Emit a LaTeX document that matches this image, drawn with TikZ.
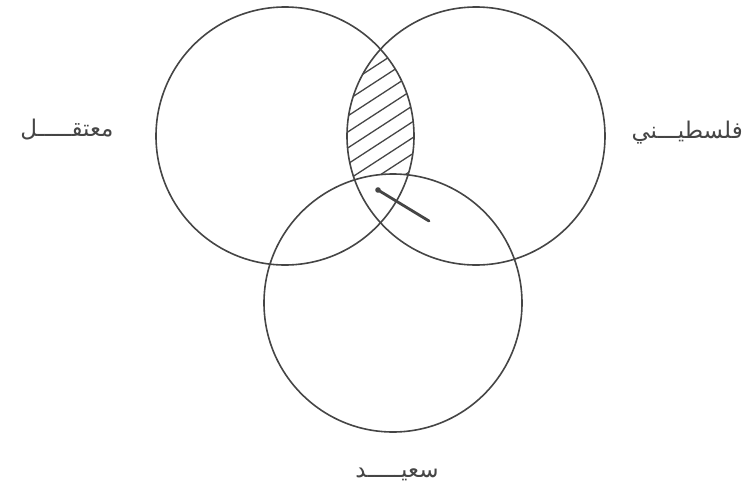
\documentclass[tikz,border=0pt]{standalone}
\usepackage{fontspec}
\newfontfamily\arabicfont[Script=Arabic]{DejaVu Sans}
\TeXXeTstate=1
\usetikzlibrary{positioning}
\definecolor{trazo}{HTML}{454545}

\begin{document}
\begin{tikzpicture}[
  x=1pt, y=-1pt,
  setcirc/.style={
    circle, draw=trazo, line width=1.6pt,
    minimum size=258pt, inner sep=0pt
  },
  lbl/.style={font=\arabicfont\fontsize{23}{27}\selectfont, text=trazo},
  hatch/.style={draw=trazo, line width=1.3pt},
  stick/.style={draw=trazo, line width=2.8pt, line cap=round}
]
  \useasboundingbox (0,0) rectangle (747,493);

  % the three sets
  \coordinate (cL) at (285,136);
  \coordinate (cR) at (476,136);
  \coordinate (cB) at (393,303);

  % hatched part: left and right, outside the bottom circle
  \begin{scope}
    \clip (cL) circle (129);
    \clip (cR) circle (129);
    \foreach \c in {310,326,...,454}
      \draw[hatch] (330,\c-0.65*330) -- (440,\c-0.65*440);
    \fill[white] (cB) circle (129);
  \end{scope}

  \node[setcirc] (mutaqal) at (cL) {};
  \node[setcirc] (filastini) at (cR) {};
  \node[setcirc] (said) at (cB) {};

  % the pointer
  \coordinate (p1) at (378,190);
  \coordinate (p2) at (429,221);
  \draw[stick] (p1) -- (p2);
  \fill[trazo] (p1) circle (2.8);

  \node[lbl] (lblL) at (67,130) {\beginR معتقـــــل\endR};
  \node[lbl, anchor=east, inner sep=1pt] (lblR) at (744,133) {\beginR فلسطيـــني\endR};
  \node[lbl] (lblB) at (397,474) {\beginR سعيـــــد\endR};
\end{tikzpicture}
\end{document}
